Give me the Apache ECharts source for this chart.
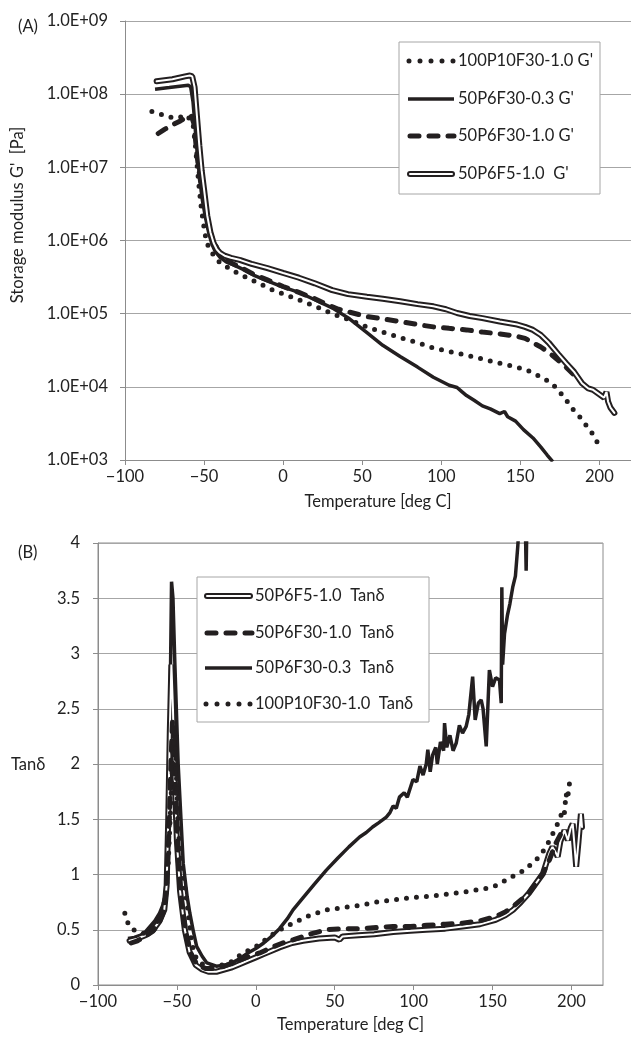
<!DOCTYPE html>
<html>
<head>
<meta charset="utf-8" />
<script src="https://cdn.jsdelivr.net/npm/echarts@6/dist/echarts.min.js"></script>
<title>DMA storage modulus and tan delta</title>
<style>
    html, body { margin: 0; padding: 0; background: #fff; }
    #chart { width: 631px; height: 1038px; }
</style>
</head>
<body>
<div id="chart"></div>
<script>
// ---- (A) storage modulus G' [Pa] vs temperature [deg C]
var tA_P = [-83, -79, -73, -67, -61, -57, -55.5, -54.7, -53, -51.6, -50, -48.4, -45, -42, -36, -29, -20, -6.5, 5, 15, 25, 31, 42, 53, 63, 74, 85, 95, 106, 116, 126, 137, 146, 154, 162, 170, 175, 179, 183, 187.5, 191.5, 195.6, 199, 201];
var gA_P = [5.8e7, 5.5e7, 4.9e7, 4.7e7, 5.2e7, 4e7, 2e7, 1.26e7, 5e6, 2.6e6, 1.5e6, 9.3e5, 6.8e5, 5.4e5, 4.4e5, 3.6e5, 2.9e5, 2.1e5, 1.7e5, 1.4e5, 1.15e5, 1e5, 8.2e4, 6.6e4, 5.6e4, 4.7e4, 4e4, 3.4e4, 3e4, 2.7e4, 2.4e4, 2.1e4, 1.9e4, 1.7e4, 1.4e4, 1.12e4, 8.5e3, 6.6e3, 5e3, 3.9e3, 3e3, 2.3e3, 1.7e3, 1.45e3];

var tA_S = [-81, -72, -64, -60, -58.5, -57, -55.5, -54, -52.5, -51, -49, -47, -45, -43, -40, -36, -31, -25, -18, -10, 0, 10, 20, 31, 42, 53, 63, 74, 85, 95, 105, 110, 113, 116, 121, 126, 131, 137, 140, 142, 147, 152, 158, 163, 167, 170.5];
var gA_S = [1.17e8, 1.23e8, 1.29e8, 1.32e8, 1.26e8, 7.9e7, 3.2e7, 1.26e7, 6.3e6, 3.5e6, 2e6, 1.26e6, 8.9e5, 7.1e5, 5.9e5, 5.1e5, 4.6e5, 4e5, 3.3e5, 2.8e5, 2.3e5, 1.95e5, 1.55e5, 1.2e5, 8.5e4, 5.5e4, 3.7e4, 2.6e4, 1.86e4, 1.35e4, 1.05e4, 9.8e3, 8.6e3, 7.6e3, 6.5e3, 5.5e3, 5.0e3, 4.3e3, 4.6e3, 3.9e3, 3.4e3, 2.6e3, 2.0e3, 1.5e3, 1.17e3, 9.5e2];

var tA_D = [-79, -75, -70, -65, -60, -58, -56.5, -55.5, -54.5, -53.5, -52, -50.5, -49, -47, -45, -42, -40, -36, -30, -25, -18, -10, 0, 10, 20, 27, 35, 42, 52, 63, 74, 85, 95, 105, 116, 126, 137, 148, 153, 158, 163, 168.5, 174, 179, 184, 188];
var gA_D = [2.9e7, 3.3e7, 3.8e7, 4.3e7, 5e7, 5e7, 4e7, 2.5e7, 1.5e7, 1e7, 6e6, 4e6, 2.5e6, 1.5e6, 1.1e6, 8e5, 6.5e5, 5.3e5, 4.6e5, 4.1e5, 3.4e5, 2.9e5, 2.35e5, 1.95e5, 1.6e5, 1.35e5, 1.15e5, 1.05e5, 9.2e4, 8.5e4, 7.8e4, 7.1e4, 6.6e4, 6.3e4, 6e4, 5.6e4, 5.3e4, 4.9e4, 4.6e4, 4e4, 3.5e4, 2.9e4, 2.3e4, 1.85e4, 1.45e4, 1.2e4];

var tA_F5 = [-80, -70, -62, -59, -57.5, -56, -54.5, -53, -51.5, -50, -48, -46, -44, -42, -40, -37, -33, -27, -20, -10, 0, 10, 20, 31, 41, 53, 63, 74, 85, 95, 103, 110, 118, 126, 137, 148, 153, 158, 163, 168, 174, 179, 184, 189, 193, 196, 200, 203, 204.5, 205.5, 207, 209.5];
var gA_F5 = [1.5e8, 1.6e8, 1.75e8, 1.8e8, 1.75e8, 1.25e8, 5e7, 2e7, 9e6, 5e6, 2.2e6, 1.3e6, 9.3e5, 7.6e5, 6.8e5, 6.2e5, 5.8e5, 5.4e5, 4.8e5, 4.2e5, 3.6e5, 3.1e5, 2.6e5, 2.1e5, 1.85e5, 1.7e5, 1.6e5, 1.48e5, 1.35e5, 1.26e5, 1.15e5, 1.02e5, 9.3e4, 8.7e4, 7.8e4, 7.1e4, 6.6e4, 6.0e4, 5.1e4, 4.0e4, 2.8e4, 2.1e4, 1.6e4, 1.12e4, 9.5e3, 9.1e3, 7.9e3, 7.1e3, 8.5e3, 6.3e3, 5.2e3, 4.4e3];

// ---- (B) tan delta vs temperature [deg C]
var tB_F5 = [-80, -75, -70, -65, -61, -58, -56.5, -55.5, -54.5, -53.5, -52.5, -51.5, -50, -48, -45, -42, -38, -34, -30, -25, -20, -15, -10, -5, 0, 5, 10, 15, 23, 30, 40, 50, 53, 55, 65, 75, 87, 98, 108, 120, 131, 142, 152, 158, 163, 168, 173, 178, 182, 186, 188, 190, 191.3, 193, 195.6, 197.7, 199.5, 200.8, 202, 203, 204.5, 206, 206.7];
var vB_F5 = [0.40, 0.42, 0.45, 0.50, 0.58, 0.68, 0.9, 1.5, 2.3, 2.9, 2.5, 1.9, 1.3, 0.85, 0.5, 0.3, 0.18, 0.14, 0.12, 0.12, 0.14, 0.16, 0.19, 0.22, 0.25, 0.28, 0.31, 0.34, 0.38, 0.40, 0.42, 0.43, 0.41, 0.44, 0.45, 0.46, 0.48, 0.49, 0.50, 0.51, 0.53, 0.55, 0.59, 0.63, 0.68, 0.75, 0.83, 0.93, 1.01, 1.19, 1.25, 1.2, 1.16, 1.3, 1.40, 1.31, 1.42, 1.46, 1.25, 1.07, 1.3, 1.55, 1.43];

var tB_D = [-79, -75, -70, -65, -61, -58, -56.5, -55, -53.8, -52.8, -51.8, -50.5, -49, -47, -44, -41, -37, -32, -26, -20, -13, -6, 2.5, 10, 17, 24, 34, 45, 55, 66, 77, 87, 98, 108, 120, 131, 142, 152, 158, 163, 168, 173, 178, 182, 186, 190, 193];
var vB_D = [0.38, 0.40, 0.44, 0.49, 0.57, 0.68, 0.9, 1.4, 2.0, 2.4, 2.2, 1.6, 1.1, 0.75, 0.45, 0.28, 0.18, 0.15, 0.15, 0.17, 0.21, 0.25, 0.29, 0.34, 0.38, 0.41, 0.46, 0.50, 0.51, 0.51, 0.52, 0.53, 0.53, 0.54, 0.55, 0.56, 0.58, 0.62, 0.66, 0.71, 0.77, 0.83, 0.93, 1.01, 1.13, 1.28, 1.36];

var tB_S = [-81, -77, -73, -70, -67, -64, -61, -59, -57.6, -56,
    -54.9, -54, -53.4, -52.5, -51.3, -49.2, -46, -43.5, -41.8, -39.5,
    -37.5, -34, -31, -25, -20, -15, -10, -5, 0, 5,
    10, 15, 20, 23.6, 30, 37, 44.7, 52, 59, 65.8,
    70, 74, 78, 82.7, 85, 87, 89, 91, 94, 96,
    99.6, 102, 104, 106, 108, 109, 110.5, 112, 114, 115,
    117, 119, 119.6, 121, 123, 125, 127, 129, 131, 133.3,
    135, 137.4, 139, 141, 142.8, 144, 146, 148, 150, 152,
    154.4, 155.5, 155.9, 156.4, 157.6, 159.5, 161, 162.8, 164.5, 166,
    167, 169, 170.5, 171.3, 172];
var vB_S = [0.42, 0.43, 0.45, 0.48, 0.53, 0.58, 0.65, 0.72, 0.8, 1.1,
    2.0, 2.91, 3.65, 3.5, 2.91, 2.0, 1.1, 0.8, 0.65, 0.48,
    0.35, 0.26, 0.2, 0.17, 0.18, 0.2, 0.24, 0.29, 0.33, 0.38,
    0.44, 0.51, 0.60, 0.68, 0.79, 0.91, 1.04, 1.15, 1.25, 1.34,
    1.38, 1.43, 1.47, 1.52, 1.56, 1.62, 1.60, 1.70, 1.74, 1.70,
    1.86, 1.84, 1.98, 1.90, 2.0, 2.13, 1.93, 2.08, 2.15, 2.0,
    2.2, 2.12, 2.37, 2.15, 2.26, 2.12, 2.19, 2.35, 2.28, 2.34,
    2.45, 2.79, 2.4, 2.55, 2.58, 2.5, 2.16, 2.85, 2.7, 2.78,
    2.76, 2.55, 3.6, 2.9, 3.18, 3.35, 3.45, 3.6, 3.7, 3.97,
    4.2, 4.3, 4.4, 3.75, 4.4];

var tB_P = [-83, -81, -78, -74, -70, -66, -62, -59, -57, -55.5, -54, -52.5, -51.3, -50.3, -49.2, -47, -44.9, -42.8, -40.7, -37.5, -33, -28, -22, -16.5, -8, 0.4, 7, 13, 18, 23.6, 34, 44.7, 55, 65.8, 76, 86.9, 98, 108, 120, 131, 140, 148, 154, 159.7, 165, 170.3, 175, 179.7, 182.5, 185, 187.5, 190.3, 192.5, 194.5, 195.5, 196.6, 197.5, 198.7, 199.8];
var vB_P = [0.65, 0.56, 0.50, 0.49, 0.46, 0.5, 0.58, 0.68, 0.82, 1.1, 1.6, 2.1, 2.3, 1.9, 1.4, 1.1, 0.875, 0.65, 0.38, 0.23, 0.18, 0.17, 0.18, 0.20, 0.29, 0.35, 0.42, 0.48, 0.52, 0.56, 0.63, 0.68, 0.70, 0.72, 0.75, 0.77, 0.79, 0.80, 0.82, 0.84, 0.86, 0.88, 0.91, 0.96, 1.0, 1.04, 1.1, 1.16, 1.22, 1.28, 1.35, 1.43, 1.5, 1.58, 1.55, 1.73, 1.68, 1.82, 1.90];

var tempTicks = [-100, -50, 0, 50, 100, 150, 200];
var legendA = ["100P10F30-1.0 G'", "50P6F30-0.3 G'", "50P6F30-1.0 G'", "50P6F5-1.0  G'"];
var legendB = ['50P6F5-1.0  Tanδ', '50P6F30-1.0  Tanδ', '50P6F30-0.3  Tanδ', '100P10F30-1.0  Tanδ'];

var FONT = 'Lato';
var FS = 16.5;
var INK = '#231f20';
var GRID = '#a6a6a6';
var AXIS = '#8c8c8c';

function pairs(t, v) {
    return t.map(function (x, i) { return [x, v[i]]; });
}
function minus(v) {
    return String(v).replace('-', '\u2212');
}
function sci(v) {
    var e = Math.round(Math.log10(v));
    return '1.0E+' + (e < 10 ? '0' : '') + e;
}

// line styles: dotted, solid, dashed, double
var styles = {
    dot: { color: INK, width: 5, type: [0, 10], cap: 'round' },
    solid: { color: INK, width: 3.5 },
    dash: { color: INK, width: 5, type: [9, 10], cap: 'round' },
    outer: { color: INK, width: 6, cap: 'round' },
    inner: { color: '#fff', width: 2, cap: 'round' }
};

function series(data, g, style) {
    return {
        type: 'line',
        xAxisIndex: g,
        yAxisIndex: g,
        data: data,
        symbol: 'none',
        animation: false,
        lineStyle: style
    };
}

// legend swatches drawn with graphic elements (double line needs two strokes)
function swatch(kind, x1, x2, y) {
    var out = [];
    function ln(w, dash, color, cap, a, b) {
        out.push({
            type: 'line', z: 101,
            shape: { x1: a, y1: y, x2: b, y2: y },
            style: { stroke: color, lineWidth: w, lineDash: dash, lineCap: cap }
        });
    }
    if (kind === 'dot') ln(5, [0, 11], INK, 'round', x1 + 1, x2);
    if (kind === 'solid') ln(3.5, null, INK, 'butt', x1, x2);
    if (kind === 'dash') ln(5, [9, 10], INK, 'round', x1 + 2, x2);
    if (kind === 'double') {
        ln(6, null, INK, 'round', x1 + 2, x2 - 2);
        ln(2, null, '#fff', 'round', x1 + 2, x2 - 2);
    }
    return out;
}
function legendBox(x, y, w, h, rows, kinds, labels, sx1, sx2, tx) {
    var els = [{
        type: 'rect', z: 100,
        shape: { x: x, y: y, width: w, height: h },
        style: { fill: '#fff', stroke: GRID, lineWidth: 1 }
    }];
    rows.forEach(function (ry, i) {
        els = els.concat(swatch(kinds[i], sx1, sx2, ry));
        els.push({
            type: 'text', z: 101, x: tx, y: ry,
            style: { text: labels[i], font: FS + 'px ' + FONT, fill: '#222', verticalAlign: 'middle' }
        });
    });
    return els;
}
function label(text, x, y, extra) {
    var el = { type: 'text', z: 101, x: x, y: y,
        style: { text: text, font: FS + 'px ' + FONT, fill: '#222', verticalAlign: 'middle' } };
    if (extra) {
        if (extra.rotation) el.rotation = extra.rotation;
        if (extra.align) el.style.align = extra.align;
    }
    return el;
}

var chart = echarts.init(document.getElementById('chart'));

var xAxisBase = function (g, gap) {
    return {
        type: 'value', gridIndex: g, min: -100, max: 220, interval: 50,
        axisLine: { show: true, onZero: false, lineStyle: { color: AXIS } },
        axisTick: { show: true, length: 5, lineStyle: { color: AXIS }, customValues: tempTicks },
        axisLabel: { customValues: tempTicks, formatter: minus, fontFamily: FONT, fontSize: FS, color: '#222', margin: 8 },
        splitLine: { show: false },
        name: 'Temperature [deg C]', nameLocation: 'middle', nameGap: gap,
        nameTextStyle: { fontFamily: FONT, fontSize: FS, color: '#222' }
    };
};

var option = {
    backgroundColor: '#fff',
    animation: false,
    grid: [
        { left: 125, top: 21, width: 506, height: 439 },
        { left: 98, top: 543, width: 505, height: 442, show: true, borderColor: AXIS, borderWidth: 1 }
    ],
    xAxis: [xAxisBase(0, 33), xAxisBase(1, 31)],
    yAxis: [
        {
            type: 'log', logBase: 10, gridIndex: 0, min: 1e3, max: 1e9, splitNumber: 6,
            axisLine: { show: true, onZero: false, lineStyle: { color: AXIS } },
            axisTick: { show: true, length: 5, lineStyle: { color: AXIS } },
            axisLabel: { formatter: sci, fontFamily: FONT, fontSize: FS, color: '#222', margin: 17 },
            splitLine: { show: true, lineStyle: { color: GRID } },
            minorTick: { show: false }
        },
        {
            type: 'value', gridIndex: 1, min: 0, max: 4, interval: 0.5,
            axisLine: { show: true, onZero: false, lineStyle: { color: AXIS } },
            axisTick: { show: true, length: 5, lineStyle: { color: AXIS } },
            axisLabel: { fontFamily: FONT, fontSize: FS, color: '#222', margin: 18 },
            splitLine: { show: true, lineStyle: { color: GRID } }
        }
    ],
    series: [
        series(pairs(tA_P, gA_P), 0, styles.dot),
        series(pairs(tA_S, gA_S), 0, styles.solid),
        series(pairs(tA_D, gA_D), 0, styles.dash),
        series(pairs(tA_F5, gA_F5), 0, styles.outer),
        series(pairs(tA_F5, gA_F5), 0, styles.inner),

        series(pairs(tB_S, vB_S), 1, styles.solid),
        series(pairs(tB_F5, vB_F5), 1, styles.outer),
        series(pairs(tB_F5, vB_F5), 1, styles.inner),
        series(pairs(tB_D, vB_D), 1, styles.dash),
        series(pairs(tB_P, vB_P), 1, styles.dot)
    ],
    graphic: {
        elements: [].concat(
            legendBox(399, 42, 201, 152, [61, 99, 136, 174], ['dot', 'solid', 'dash', 'double'], legendA, 408, 454, 458),
            legendBox(197, 577, 232, 145, [596, 633, 668, 704], ['double', 'dash', 'solid', 'dot'], legendB, 205, 252, 255),
            [
                label('(A)', 18, 27),
                label('(B)', 18, 553),
                label("Storage modulus G'  [Pa]", 18, 215, { rotation: Math.PI / 2, align: 'center' }),
                label('Tanδ', 11, 765)
            ]
        )
    }
};
chart.setOption(option);
</script>
</body>
</html>
